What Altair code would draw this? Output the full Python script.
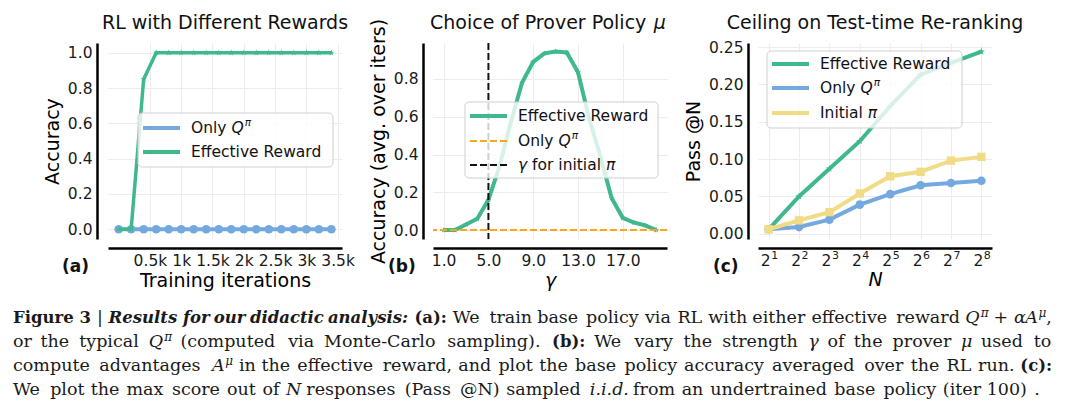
import altair as alt
import pandas as pd

# ---------------- data ----------------
iters_a = [0, 200, 400, 600, 800, 1000, 1200, 1400, 1600, 1800, 2000, 2200, 2400, 2600, 2800, 3000, 3200, 3400]
acc_only_q_a = [0.0, 0.0, 0.0, 0.0, 0.0, 0.0, 0.0, 0.0, 0.0, 0.0, 0.0, 0.0, 0.0, 0.0, 0.0, 0.0, 0.0, 0.0]
acc_eff_a = [0.0, 0.0, 0.85, 1.0, 1.0, 1.0, 1.0, 1.0, 1.0, 1.0, 1.0, 1.0, 1.0, 1.0, 1.0, 1.0, 1.0, 1.0]

gamma_b = [1, 2, 3, 4, 5, 6, 7, 8, 9, 10, 11, 12, 13, 14, 15, 16, 17, 18, 19, 20]
acc_eff_b = [0.0, 0.0, 0.03, 0.06, 0.16, 0.34, 0.57, 0.78, 0.89, 0.935, 0.945, 0.94, 0.835,
             0.59, 0.39, 0.17, 0.065, 0.04, 0.025, 0.0]
only_q_b = [0.0]
gamma_init_b = [5.0]

n_c = [2, 4, 8, 16, 32, 64, 128, 256]
n_exp_c = ["1", "2", "3", "4", "5", "6", "7", "8"]
pass_eff_c = [0.006, 0.050, 0.087, 0.124, 0.171, 0.213, 0.229, 0.244]
pass_onlyq_c = [0.006, 0.009, 0.019, 0.039, 0.053, 0.065, 0.068, 0.071]
pass_init_c = [0.006, 0.018, 0.029, 0.054, 0.077, 0.083, 0.098, 0.103]

ticks_a_x = [500, 1000, 1500, 2000, 2500, 3000, 3500]
ticks_a_y = [0.0, 0.2, 0.4, 0.6, 0.8, 1.0]
ticks_b_x = [1, 5, 9, 13, 17]
ticks_b_y = [0.0, 0.2, 0.4, 0.6, 0.8]
ticks_c_x = [2, 4, 8, 16, 32, 64, 128, 256]
ticks_c_y = [0.0, 0.05, 0.10, 0.15, 0.20, 0.25]

titles = ["RL with Different Rewards", "Choice of Prover Policy", "Ceiling on Test-time Re-ranking"]

caption_lines = [
    [("Figure", "b"), ("3", "b"), ("|", "n"), ("Results", "bi"), ("for", "bi"), ("our", "bi"),
     ("didactic", "bi"), ("analysis:", "bi"), ("(a):", "b"), ("We", "n"), ("train", "n"), ("base", "n"),
     ("policy", "n"), ("via", "n"), ("RL", "n"), ("with", "n"), ("either", "n"), ("effective", "n"),
     ("reward", "n"), ("Q", "i"), ("π", "sup", True), ("+", "n"), ("α", "i"), ("A", "i", True),
     ("μ", "sup", True), (",", "n", True)],
    [("or", "n"), ("the", "n"), ("typical", "n"), ("Q", "i"), ("π", "sup", True), ("(computed", "n"),
     ("via", "n"), ("Monte-Carlo", "n"), ("sampling).", "n"), ("(b):", "b"), ("We", "n"), ("vary", "n"),
     ("the", "n"), ("strength", "n"), ("γ", "i"), ("of", "n"), ("the", "n"), ("prover", "n"), ("μ", "i"),
     ("used", "n"), ("to", "n")],
    [("compute", "n"), ("advantages", "n"), ("A", "i"), ("μ", "sup", True), ("in", "n"), ("the", "n"),
     ("effective", "n"), ("reward,", "n"), ("and", "n"), ("plot", "n"), ("the", "n"), ("base", "n"),
     ("policy", "n"), ("accuracy", "n"), ("averaged", "n"), ("over", "n"), ("the", "n"), ("RL", "n"),
     ("run.", "n"), ("(c):", "b")],
    [("We", "n"), ("plot", "n"), ("the", "n"), ("max", "n"), ("score", "n"), ("out", "n"), ("of", "n"),
     ("N", "i"), ("responses", "n"), ("(Pass", "n"), ("@N)", "n"), ("sampled", "n"), ("i.i.d.", "i"),
     ("from", "n"), ("an", "n"), ("undertrained", "n"), ("base", "n"), ("policy", "n"), ("(iter", "n"),
     ("100)", "n"), (".", "n")],
]

# ---------------- style ----------------
GREEN = "#3fb98b"
BLUE = "#74a9df"
YELLOW = "#f1dc85"
ORANGE = "#fba524"
W, H = 234, 196
SANS = "DejaVu Sans"
SERIF = "DejaVu Serif"
STAR = ("M0,-1L0.2245,-0.309L0.951,-0.309L0.363,0.118L0.588,0.809L0,0.382L-0.588,0.809"
        "L-0.363,0.118L-0.951,-0.309L-0.2245,-0.309Z")

WID = {' ': 651, '!': 821, '(': 799, ')': 799, '+': 1716, ',': 651, '-': 739, '.': 651, ':': 690,
       '@': 2048, '|': 690, 'A': 1401, 'B': 1405, 'C': 1430, 'D': 1577, 'E': 1294, 'F': 1178,
       'G': 1587, 'H': 1540, 'I': 604, 'L': 1141, 'M': 1767, 'N': 1532, 'O': 1612, 'P': 1235,
       'Q': 1612, 'R': 1423, 'S': 1300, 'T': 1251, 'W': 2025, 'a': 1255, 'b': 1300, 'c': 1126,
       'd': 1300, 'e': 1260, 'f': 721, 'g': 1300, 'h': 1298, 'i': 569, 'j': 569, 'k': 1186,
       'l': 569, 'm': 1995, 'n': 1298, 'o': 1253, 'p': 1300, 'q': 1300, 'r': 842, 's': 1067,
       't': 803, 'u': 1298, 'v': 1212, 'w': 1675, 'x': 1212, 'y': 1212, 'z': 1075,
       'π': 1233, 'α': 1300, 'μ': 1300, 'γ': 1212}
for d in "0123456789":
    WID[d] = 1303


def text_w(s, size, factor=1.0, serif=False):
    tot = 0.0
    for ch in s:
        w = WID.get(ch, 1200)
        if serif and ch.isupper() and ch.isascii():
            w *= 1.12
        tot += w
    return tot * size / 2048.0 * factor


one = pd.DataFrame({"k": [0]})


def txt(text, x, y, size=15.5, font=SANS, weight="normal", style="normal", align="left",
        baseline="alphabetic", color="#111111"):
    return alt.Chart(one).mark_text(text=text, font=font, fontSize=size, fontWeight=weight,
                                    fontStyle=style, align=align, baseline=baseline,
                                    color=color).encode(x=alt.value(x), y=alt.value(y))


def axis(values, title, fmt=None, expr=None, italic=False, offset=10, tpad=5, labels=True):
    kw = dict(values=values, grid=True, gridColor="#ececec", gridWidth=1, domain=True,
              domainColor="#000000", domainWidth=2.5, ticks=False, labels=labels, labelPadding=5,
              labelFontSize=15.5, labelFont=SANS, labelColor="#1a1a1a", labelFlush=False,
              labelOverlap=False, title=title, titleFont=SANS,
              titleFontSize=19, titleFontWeight="normal", titleColor="#000000",
              titlePadding=tpad, offset=offset)
    if fmt:
        kw["format"] = fmt
    if expr:
        kw["labelExpr"] = expr
    if italic:
        kw["titleFontStyle"] = "italic"
    return alt.Axis(**kw)


def legend(x1, y1, x2, y2, rows):
    layers = [alt.Chart(one).mark_rect(fill="white", fillOpacity=0.8, stroke="#cfcfcf",
                                       strokeWidth=1, cornerRadius=4).encode(
        x=alt.value(x1), x2=alt.value(x2), y=alt.value(y1), y2=alt.value(y2))]
    for (yy, color, dash, sw, tokens) in rows:
        props = dict(color=color, strokeWidth=sw)
        if dash:
            props["strokeDash"] = dash
        layers.append(alt.Chart(one).mark_rule(**props).encode(
            x=alt.value(x1 + 5), x2=alt.value(x1 + 42), y=alt.value(yy)))
        xx = x1 + 53
        for (t, st) in tokens:
            if st == "sup":
                layers.append(txt(t, xx + 1, yy - 5, size=10.5, style="italic", baseline="middle"))
                xx += text_w(t, 10.5)
            else:
                lead = len(t) - len(t.lstrip())
                xx += text_w(" " * lead, 15.5)
                core = t.strip()
                layers.append(txt(core, xx, yy, size=15.5, style="italic" if st == "i" else "normal",
                                  baseline="middle"))
                xx += text_w(t.lstrip(), 15.5)
    return layers


# ---------------- caption layout (relative to panel a origin) ----------------
CAP_SIZE, BOLD_SIZE, SUP_SIZE = 17.5, 16.5, 12
SIZE = {"n": CAP_SIZE, "i": CAP_SIZE, "b": BOLD_SIZE, "bi": BOLD_SIZE, "sup": SUP_SIZE}
FACT = {"n": 1.04, "i": 1.0, "b": 1.15, "bi": 1.12, "sup": 1.0}
LINE_L, LINE_R = 13 - 108, 1052 - 108
BASE_Y = [323 - 43, 347 - 43, 371 - 43, 395 - 43]
MIN_GAP = 3.6


def layout_line(tokens, y, justify):
    groups = []
    for t in tokens:
        text, st = t[0], t[1]
        attach = len(t) > 2 and t[2]
        w = text_w(text, SIZE[st], FACT[st], serif=True)
        if attach and groups:
            groups[-1].append((text, st, w))
        else:
            groups.append([(text, st, w)])
    total = sum(w for g in groups for _, _, w in g)
    space = text_w(" ", CAP_SIZE, 1.04)
    if justify:
        gap = max((LINE_R - LINE_L - total) / (len(groups) - 1), MIN_GAP)
    else:
        gap = space
    out = []
    x = LINE_L
    for g in groups:
        for text, st, w in g:
            out.append(dict(txt=text, px=x, py=y - (6.5 if st == "sup" else 0), st=st))
            x += w
        x += gap
    return out


cap_rows = []
for i, line in enumerate(caption_lines):
    cap_rows += layout_line(line, BASE_Y[i], justify=(i < 3))
cap_df = pd.DataFrame(cap_rows)

cap_styles = {"n": dict(fontWeight="normal", fontStyle="normal"),
              "i": dict(fontWeight="normal", fontStyle="italic"),
              "b": dict(fontWeight="bold", fontStyle="normal"),
              "bi": dict(fontWeight="bold", fontStyle="italic"),
              "sup": dict(fontWeight="normal", fontStyle="italic")}
caption_layers = []
for st, props in cap_styles.items():
    caption_layers.append(
        alt.Chart(cap_df[cap_df.st == st]).mark_text(font=SERIF, align="left", baseline="alphabetic",
                                                     color="#1a1a1a", fontSize=SIZE[st], **props).encode(
            x=alt.X("px:Q", scale=None, axis=None), y=alt.Y("py:Q", scale=None, axis=None),
            text="txt:N"))

frame = alt.Chart(one).mark_rect(opacity=0).encode(
    x=alt.value(-100), x2=alt.value(964), y=alt.value(-35), y2=alt.value(365))

# ---------------- panel (a) ----------------
XA = alt.X("x:Q", scale=alt.Scale(domain=[-170, 3570], nice=False, zero=False),
           axis=axis(ticks_a_x, "Training iterations", expr="datum.value / 1000 + 'k'", offset=9, tpad=3))
YA = alt.Y("y:Q", scale=alt.Scale(domain=[-0.055, 1.055], nice=False, zero=False),
           axis=axis(ticks_a_y, "Accuracy", fmt=".1f", offset=11))
da_q = pd.DataFrame({"x": iters_a, "y": acc_only_q_a})
da_e = pd.DataFrame({"x": iters_a, "y": acc_eff_a})
panel_a = alt.layer(
    frame,
    alt.Chart(da_q).mark_line(color=BLUE, strokeWidth=4).encode(x=XA, y=YA),
    alt.Chart(da_q).mark_point(shape="circle", filled=True, size=75, color=BLUE, opacity=1).encode(x=XA, y=YA),
    alt.Chart(da_e).mark_line(color=GREEN, strokeWidth=3.5).encode(x=XA, y=YA),
    alt.Chart(da_e).mark_point(shape=STAR, filled=True, size=45, color=GREEN, opacity=1).encode(x=XA, y=YA),
    *legend(30, 70, 225, 124, [
        (85, BLUE, None, 4, [("Only ", "n"), ("Q", "i"), ("π", "sup")]),
        (109, GREEN, None, 4, [("Effective Reward", "n")]),
    ]),
    txt(titles[0], W / 2, -14, size=19, align="center"),
    txt("(a)", -46, 229, size=17, weight="bold"),
    *caption_layers,
).properties(width=W, height=H)

# ---------------- panel (b) ----------------
XB = alt.X("x:Q", scale=alt.Scale(domain=[0.05, 20.95], nice=False, zero=False),
           axis=axis(ticks_b_x, "γ", fmt=".1f", italic=True, offset=9, tpad=3))
YB = alt.Y("y:Q", scale=alt.Scale(domain=[-0.047, 0.99], nice=False, zero=False),
           axis=axis(ticks_b_y, "Accuracy (avg. over iters)", fmt=".1f"))
db_e = pd.DataFrame({"x": gamma_b, "y": acc_eff_b})
panel_b = alt.layer(
    alt.Chart(db_e).mark_line(color=GREEN, strokeWidth=4).encode(x=XB, y=YB),
    alt.Chart(db_e).mark_point(shape=STAR, filled=True, size=40, color=GREEN, opacity=1).encode(x=XB, y=YB),
    alt.Chart(pd.DataFrame({"y": only_q_b})).mark_rule(color=ORANGE, strokeWidth=2, strokeDash=[7, 3]).encode(y=YB),
    alt.Chart(pd.DataFrame({"x": gamma_init_b})).mark_rule(color="#111111", strokeWidth=2, strokeDash=[7, 3]).encode(x=XB),
    *legend(32, 59, 225, 135, [
        (73, GREEN, None, 4, [("Effective Reward", "n")]),
        (98, ORANGE, [7, 3], 2, [("Only ", "n"), ("Q", "i"), ("π", "sup")]),
        (122, "#111111", [7, 3], 2, [("γ", "i"), (" for initial ", "n"), ("π", "i")]),
    ]),
    txt(titles[1], -3, -14, size=19),
    txt("μ", -3 + text_w(titles[1] + " ", 19), -14, size=19, style="italic"),
    txt("(b)", -45, 229, size=17, weight="bold"),
).properties(width=W, height=H)

# ---------------- panel (c) ----------------
XC = alt.X("x:Q", scale=alt.Scale(type="log", base=2, domain=[2 ** 0.65, 2 ** 8.35], nice=False),
           axis=axis(ticks_c_x, "N", italic=True, offset=9, tpad=22, labels=False))
YC = alt.Y("y:Q", scale=alt.Scale(domain=[-0.007, 0.2555], nice=False, zero=False),
           axis=axis(ticks_c_y, "Pass @N", fmt=".2f"))
dc_e = pd.DataFrame({"x": n_c, "y": pass_eff_c})
dc_q = pd.DataFrame({"x": n_c, "y": pass_onlyq_c})
dc_i = pd.DataFrame({"x": n_c, "y": pass_init_c})
dc_lab = pd.DataFrame({"x": n_c, "e": n_exp_c})
panel_c = alt.layer(
    alt.Chart(dc_e).mark_line(color=GREEN, strokeWidth=4).encode(x=XC, y=YC),
    alt.Chart(dc_e).mark_point(shape=STAR, filled=True, size=60, color=GREEN, opacity=1).encode(x=XC, y=YC),
    alt.Chart(dc_q).mark_line(color=BLUE, strokeWidth=4).encode(x=XC, y=YC),
    alt.Chart(dc_q).mark_point(shape="circle", filled=True, size=75, color=BLUE, opacity=1).encode(x=XC, y=YC),
    alt.Chart(dc_i).mark_line(color=YELLOW, strokeWidth=4).encode(x=XC, y=YC),
    alt.Chart(dc_i).mark_point(shape="square", filled=True, size=70, color=YELLOW, opacity=1).encode(x=XC, y=YC),
    # tick labels 2^k drawn through the x scale
    alt.Chart(dc_lab).mark_text(text="2", font=SANS, fontSize=15.5, align="right", baseline="alphabetic",
                                dx=2, color="#1a1a1a").encode(x=XC, y=alt.value(223)),
    alt.Chart(dc_lab).mark_text(font=SANS, fontSize=11, align="left", baseline="alphabetic",
                                dx=2.5, color="#1a1a1a").encode(x=XC, y=alt.value(216), text="e:N"),
    *legend(9, 8, 204, 85, [
        (21, GREEN, None, 4, [("Effective Reward", "n")]),
        (45, BLUE, None, 4, [("Only ", "n"), ("Q", "i"), ("π", "sup")]),
        (70, YELLOW, None, 4, [("Initial ", "n"), ("π", "i")]),
    ]),
    txt(titles[2], W / 2, -14, size=19, align="center"),
    txt("(c)", -45, 229, size=17, weight="bold"),
).properties(width=W, height=H)

chart = alt.hconcat(panel_a, panel_b, panel_c, spacing=91, bounds="flush").properties(
    padding=0, background="white"
).configure(font=SANS).configure_view(stroke=None)

chart.save("out.html", embed_options={"renderer": "svg", "actions": False})
